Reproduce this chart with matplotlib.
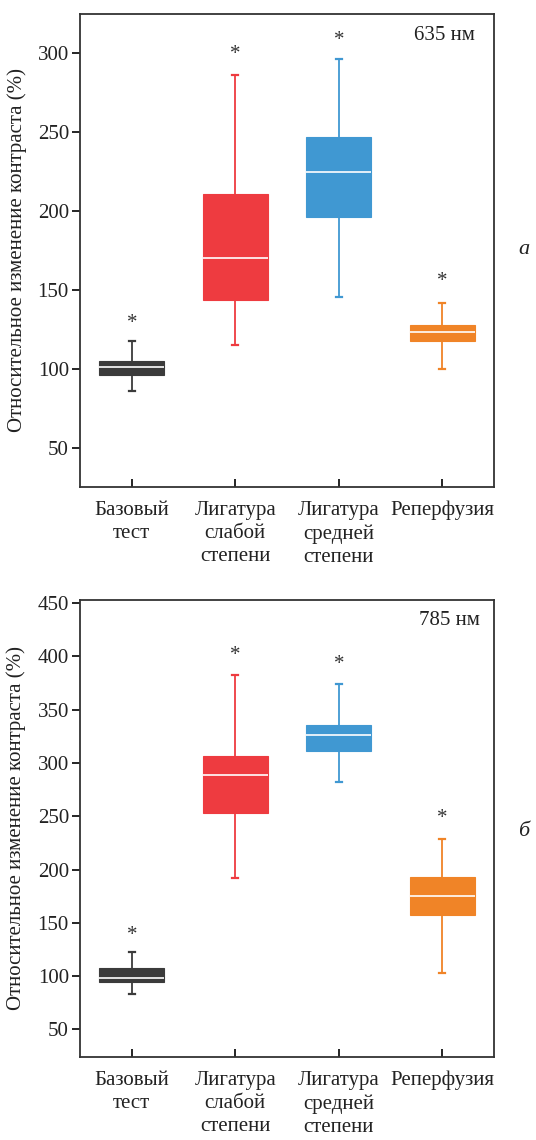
"""
Relative contrast change box plots for two wavelengths (635 nm / 785 nm).
"""

import matplotlib
matplotlib.use("Agg")
import matplotlib.pyplot as plt

# ── Data ──────────────────────────────────────────────────────────────────────
CATEGORIES = ["Базовый\nтест", "Лигатура\nслабой\nстепени",
              "Лигатура\nсредней\nстепени", "Реперфузия"]
COLORS = ["#3b3b3b", "#ee3b40", "#4098d2", "#f08427"]

# 635 nm panel
Q1_635 = [95.8, 143.9, 196.4, 117.9]
MED_635 = [100.8, 170.3, 224.9, 123.2]
Q3_635 = [104.9, 211.0, 246.8, 127.6]
WLO_635 = [85.7, 115.2, 145.8, 99.6]
WHI_635 = [117.3, 286.0, 296.4, 141.8]
STAR_635 = [131.6, 302.0, 311.0, 157.8]

# 785 nm panel
Q1_785 = [94.8, 253.0, 311.5, 157.0]
MED_785 = [98.5, 289.0, 326.0, 175.2]
Q3_785 = [107.3, 306.3, 335.4, 193.4]
WLO_785 = [83.2, 192.0, 282.0, 103.0]
WHI_785 = [122.3, 382.8, 374.4, 228.7]
STAR_785 = [142.0, 405.0, 396.0, 252.0]

YLABEL = "Относительное изменение контраста (%)"
FONT = ["Liberation Serif", "DejaVu Serif"]

plt.rcParams["font.family"] = FONT


def draw_panel(ax, q1, med, q3, wlo, whi, stars, ylim, yticks, tag, tag_x):
    stats = []
    for i in range(len(CATEGORIES)):
        stats.append(dict(med=med[i], q1=q1[i], q3=q3[i],
                          whislo=wlo[i], whishi=whi[i], fliers=[]))
    pos = list(range(1, len(CATEGORIES) + 1))
    bp = ax.bxp(stats, positions=pos, widths=0.63, patch_artist=True,
                showfliers=False, capwidths=0.06)
    for i, c in enumerate(COLORS):
        bp["boxes"][i].set(facecolor=c, edgecolor=c, linewidth=0.8)
        bp["medians"][i].set(color="white", linewidth=1.2)
        for ln in bp["whiskers"][2 * i:2 * i + 2]:
            ln.set(color=c, linewidth=1.3)
        for ln in bp["caps"][2 * i:2 * i + 2]:
            ln.set(color=c, linewidth=1.6)
        # asterisk glyph sits high in its box, so nudge it down a little
        ax.annotate("*", (pos[i], stars[i]), xytext=(0, -3),
                    textcoords="offset points", ha="center", va="center",
                    fontsize=15, color="#333333")

    ax.set_xlim(0.5, 4.5)
    ax.set_ylim(*ylim)
    ax.set_yticks(yticks)
    ax.set_xticks(pos)
    ax.set_xticklabels(CATEGORIES, fontsize=15, linespacing=1.3,
                       color="#222222")
    ax.tick_params(axis="x", direction="in", length=6, width=1.2, pad=10)
    ax.tick_params(axis="y", direction="out", length=6, width=1.2, pad=2,
                   labelsize=15, labelcolor="#222222")
    for sp in ax.spines.values():
        sp.set_linewidth(1.3)
        sp.set_color("#333333")
    ax.set_ylabel(YLABEL, fontsize=15, color="#222222", labelpad=8)
    ax.text(tag_x, 0.955, tag, transform=ax.transAxes, ha="right",
            va="center", fontsize=15, color="#222222")


# ── Figure ────────────────────────────────────────────────────────────────────
fig = plt.figure(figsize=(5.36, 11.4), dpi=100)
W, H = 536, 1140
ax_a = fig.add_axes([80 / W, 1 - 487 / H, 414 / W, 473 / H])
ax_b = fig.add_axes([80 / W, 1 - 1057 / H, 414 / W, 457 / H])

draw_panel(ax_a, Q1_635, MED_635, Q3_635, WLO_635, WHI_635, STAR_635,
           (25, 325), [50, 100, 150, 200, 250, 300], "635 нм", 0.954)
draw_panel(ax_b, Q1_785, MED_785, Q3_785, WLO_785, WHI_785, STAR_785,
           (24, 453), [50, 100, 150, 200, 250, 300, 350, 400, 450], "785 нм",
           0.966)

fig.text(524 / W, 1 - 250 / H, "а", fontsize=16, style="italic",
         ha="center", va="center", color="#222222")
fig.text(524 / W, 1 - 831 / H, "б", fontsize=16, style="italic",
         ha="center", va="center", color="#222222")

fig.savefig("out.png", dpi=100)
